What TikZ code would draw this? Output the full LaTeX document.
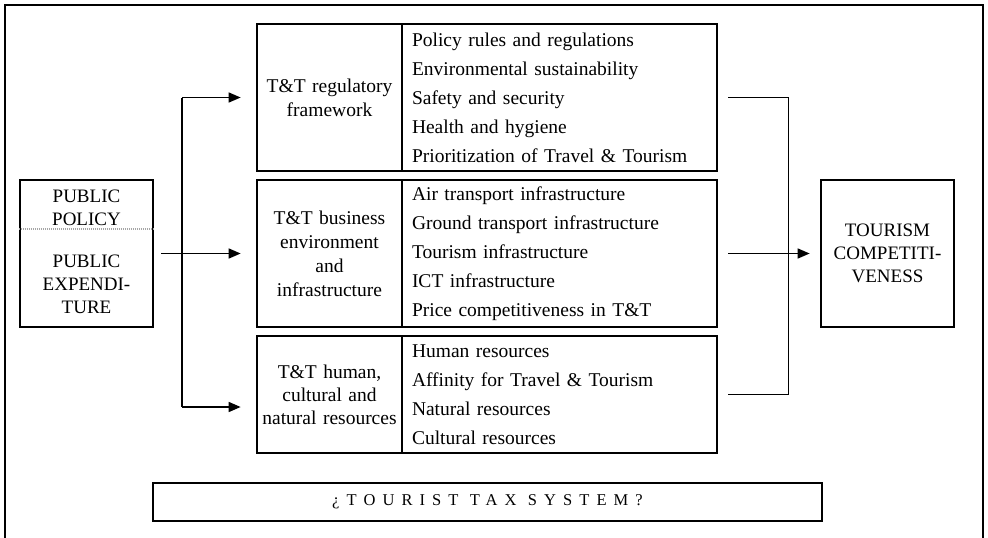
\documentclass[tikz,border=0pt]{standalone}
\usepackage{fontspec}
\setmainfont{Liberation Serif}
\usetikzlibrary{arrows.meta}
\begin{document}
\begin{tikzpicture}[x=1pt,y=-1pt,
  box/.style={draw, line width=2.7pt, rectangle, inner sep=0pt},
  lbl/.style={box, minimum width=145pt, text width=137pt, align=center,
    font=\fontsize{19.5}{24}\selectfont},
  items/.style={box, minimum width=315pt, inner xsep=10pt, text width=295pt,
    align=left, font=\fontsize{19.5}{29}\selectfont},
  caps/.style={align=center, inner sep=0pt, font=\fontsize{19}{23}\selectfont},
  wire/.style={line width=1.5pt},
  conn/.style={wire, -{Triangle[length=12pt,width=10pt]}}]
\useasboundingbox (0,0) rectangle (988,538);

% outer frame (open at the bottom)
\draw[line width=2.4pt] (5,540) -- (5,5) -- (983,5) -- (983,540);

% pillar boxes: label cell + list of indicators
\node[lbl, minimum height=147pt] (lab1) at (329.5,97.5) {T\&T regulatory\\framework};
\node[items, minimum height=147pt] (list1) at (559.5,97.5)
  {Policy rules and regulations\\Environmental sustainability\\Safety and security\\Health and hygiene\\Prioritization of Travel \& Tourism};

\node[lbl, minimum height=147pt] (lab2) at (329.5,253.5) {T\&T business\\environment\\and\\infrastructure};
\node[items, minimum height=147pt] (list2) at (559.5,253.5)
  {Air transport infrastructure\\Ground transport infrastructure\\Tourism infrastructure\\ICT infrastructure\\Price competitiveness in T\&T};

\node[lbl, minimum height=117pt, font=\fontsize{19.5}{23}\selectfont] (lab3) at (329.5,394.5) {T\&T human,\\cultural and\\natural resources};
\node[items, minimum height=117pt] (list3) at (559.5,394.5)
  {Human resources\\Affinity for Travel \& Tourism\\Natural resources\\Cultural resources};

% public policy / expenditure box
\node[box, minimum width=133pt, minimum height=147pt] (pub) at (86.5,253.5) {};
\node[caps] (pubpol) at (86.5,208) {PUBLIC\\POLICY};
\node[caps] (pubexp) at (86.5,284) {PUBLIC\\EXPENDI-\\TURE};
\draw[gray!70, line width=2pt, dash pattern=on 1pt off 1pt]
  (pub.west |- 0,229) -- (pub.east |- 0,229);

% outcome box
\node[box, minimum width=133pt, minimum height=147pt, caps] (tour) at (887.5,253.5)
  {TOURISM\\COMPETITI-\\VENESS};

% tax system banner
\node[box, line width=2.4pt, minimum width=669pt, minimum height=38pt,
  font=\fontsize{16.5}{19}\selectfont] (tax) at (487.5,502)
  {\addfontfeature{LetterSpace=43}¿TOURIST TAX SYSTEM?};

% fan-out from public policy
\coordinate (ftop) at (182,97.5);
\coordinate (fbot) at (182,407);
\draw[wire] (ftop) -- (fbot);
\draw[conn, shorten >=15pt] (ftop) -- (lab1.west);
\draw[conn, shorten <=7pt, shorten >=15pt] (pub.east) -- (lab2.west);
\draw[conn, shorten >=15pt] (fbot) -- (fbot -| lab3.west);

% fan-in to competitiveness
\path (list1.east) ++(70,0) coordinate (rtop);
\path (list3.east) ++(70,0) coordinate (rbot);
\draw[wire, shorten <=10pt, shorten >=10pt] (list1.east) -- (rtop) -- (rbot) -- (list3.east);
\draw[conn, shorten <=10pt, shorten >=10pt] (list2.east) -- (tour.west);
\end{tikzpicture}
\end{document}
